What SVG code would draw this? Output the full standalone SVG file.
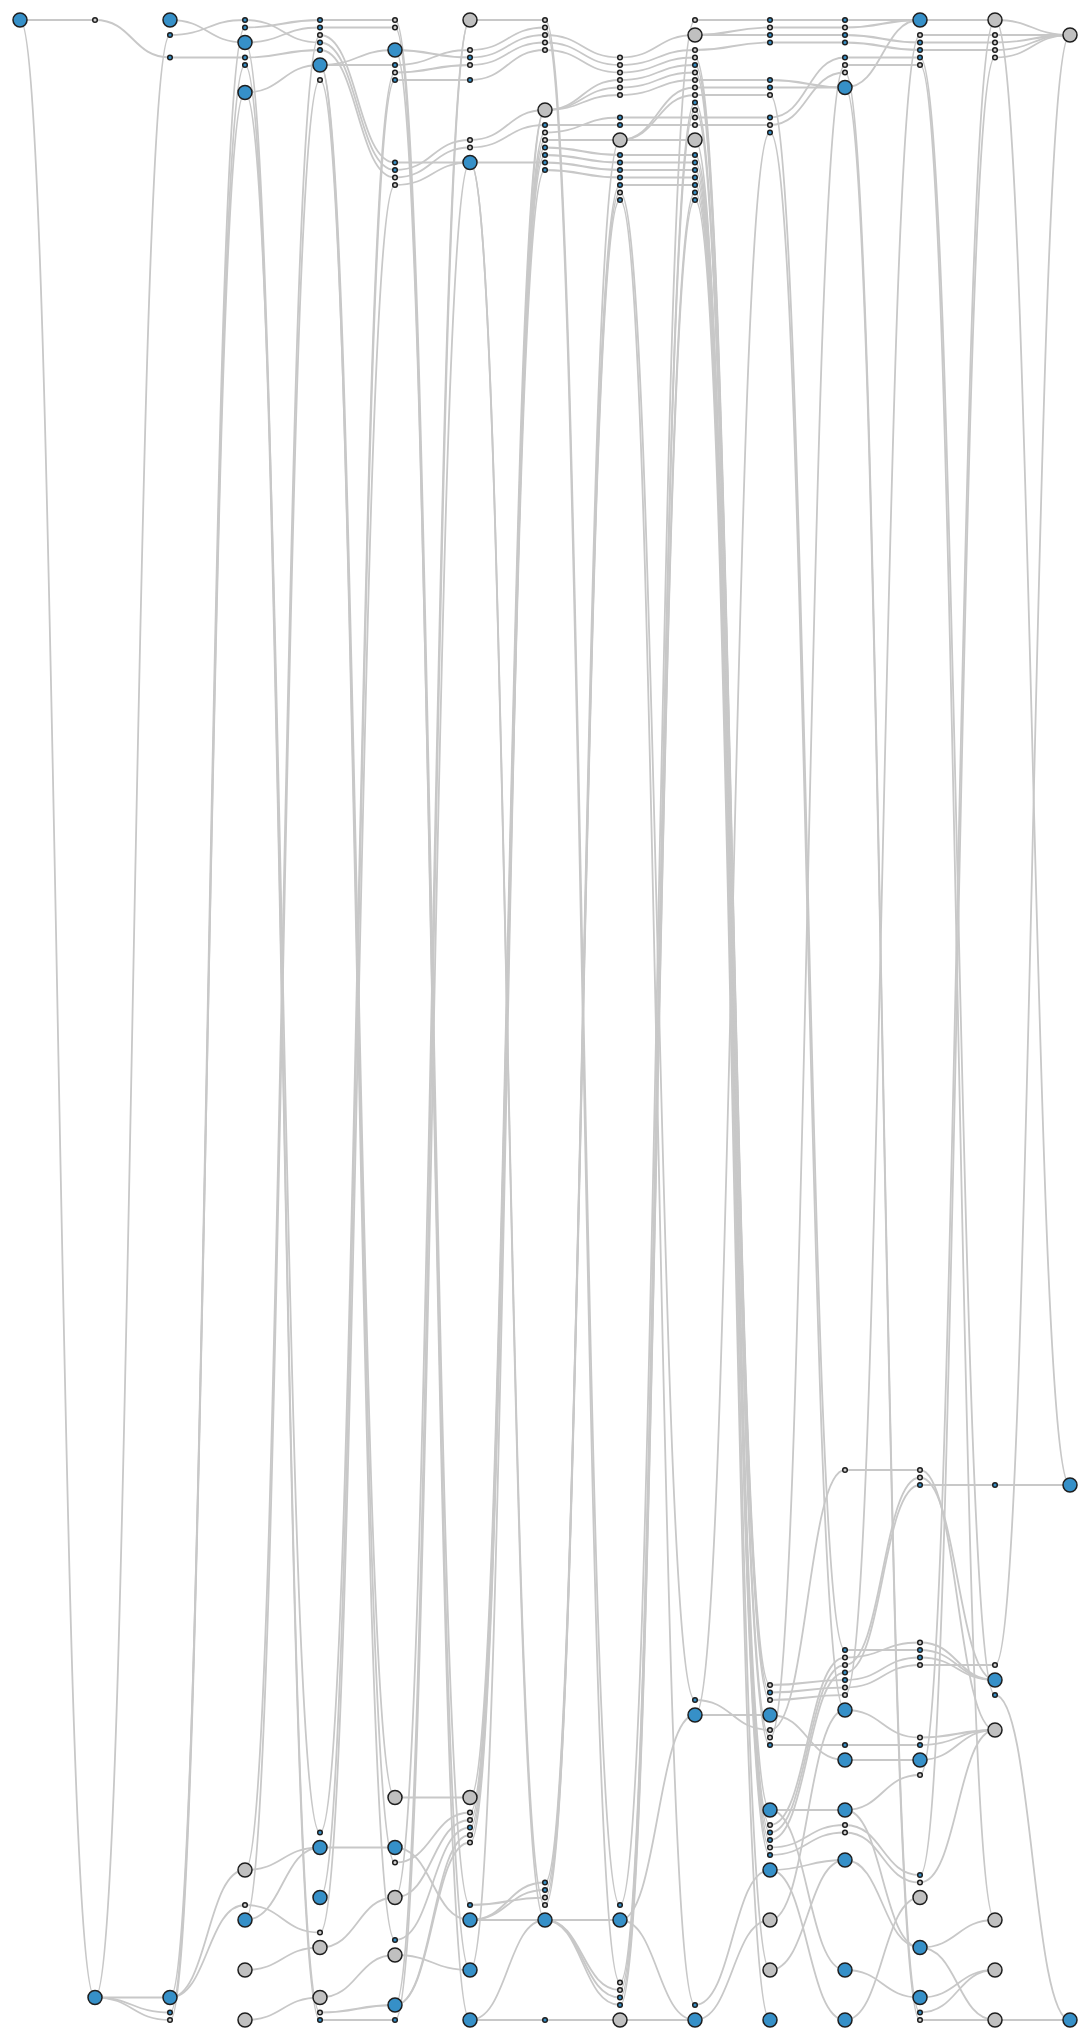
<svg xmlns="http://www.w3.org/2000/svg" width="1090" height="2040" viewBox="0 0 1090 2040">
<style>
.e{fill:none;stroke:#c8c8c8;stroke-width:1.8}
circle{stroke:#1e1e1e;stroke-width:1.5}
.B{fill:#3690c8}
.G{fill:#c0c0c0}
.b{fill:#3690c8}
.w{fill:#d0d0d0}
</style>
<rect width="1090" height="2040" fill="#ffffff"/>
<g id="connectors">
<path class="e" d="M20 20C57.5 20 57.5 20 95 20"/>
<path class="e" d="M20 20C57.5 20 57.5 1997.5 95 1997.5"/>
<path class="e" d="M95 20C132.5 20 132.5 57.5 170 57.5"/>
<path class="e" d="M95 1997.5C132.5 1997.5 132.5 35 170 35"/>
<path class="e" d="M95 1997.5C132.5 1997.5 132.5 1997.5 170 1997.5"/>
<path class="e" d="M95 1997.5C132.5 1997.5 132.5 2012.5 170 2012.5"/>
<path class="e" d="M95 1997.5C132.5 1997.5 132.5 2020 170 2020"/>
<path class="e" d="M170 20C207.5 20 207.5 42.5 245 42.5"/>
<path class="e" d="M170 35C207.5 35 207.5 20 245 20"/>
<path class="e" d="M170 57.5C207.5 57.5 207.5 57.5 245 57.5"/>
<path class="e" d="M170 2012.5C207.5 2012.5 207.5 27.5 245 27.5"/>
<path class="e" d="M170 2020C207.5 2020 207.5 65 245 65"/>
<path class="e" d="M170 1997.5C207.5 1997.5 207.5 92.5 245 92.5"/>
<path class="e" d="M170 1997.5C207.5 1997.5 207.5 1870 245 1870"/>
<path class="e" d="M170 1997.5C207.5 1997.5 207.5 1905 245 1905"/>
<path class="e" d="M245 27.5C282.5 27.5 282.5 20 320 20"/>
<path class="e" d="M245 42.5C282.5 42.5 282.5 27.5 320 27.5"/>
<path class="e" d="M245 20C282.5 20 282.5 42.5 320 42.5"/>
<path class="e" d="M245 57.5C282.5 57.5 282.5 50 320 50"/>
<path class="e" d="M245 92.5C282.5 92.5 282.5 65 320 65"/>
<path class="e" d="M245 1870C282.5 1870 282.5 35 320 35"/>
<path class="e" d="M245 1920C282.5 1920 282.5 80 320 80"/>
<path class="e" d="M245 65C282.5 65 282.5 2020 320 2020"/>
<path class="e" d="M245 92.5C282.5 92.5 282.5 1832.5 320 1832.5"/>
<path class="e" d="M245 42.5C282.5 42.5 282.5 2012.5 320 2012.5"/>
<path class="e" d="M245 1870C282.5 1870 282.5 1847.5 320 1847.5"/>
<path class="e" d="M245 1920C282.5 1920 282.5 1847.5 320 1847.5"/>
<path class="e" d="M245 1905C282.5 1905 282.5 1932.5 320 1932.5"/>
<path class="e" d="M245 1970C282.5 1970 282.5 1947.5 320 1947.5"/>
<path class="e" d="M245 2020C282.5 2020 282.5 1997.5 320 1997.5"/>
<path class="e" d="M320 20C357.5 20 357.5 20 395 20"/>
<path class="e" d="M320 27.5C357.5 27.5 357.5 27.5 395 27.5"/>
<path class="e" d="M320 35C357.5 35 357.5 162.5 395 162.5"/>
<path class="e" d="M320 42.5C357.5 42.5 357.5 170 395 170"/>
<path class="e" d="M320 50C357.5 50 357.5 177.5 395 177.5"/>
<path class="e" d="M320 65C357.5 65 357.5 65 395 65"/>
<path class="e" d="M320 65C357.5 65 357.5 50 395 50"/>
<path class="e" d="M320 80C357.5 80 357.5 1862.5 395 1862.5"/>
<path class="e" d="M320 65C357.5 65 357.5 1797.5 395 1797.5"/>
<path class="e" d="M320 65C357.5 65 357.5 1940 395 1940"/>
<path class="e" d="M320 1832.5C357.5 1832.5 357.5 72.5 395 72.5"/>
<path class="e" d="M320 1897.5C357.5 1897.5 357.5 80 395 80"/>
<path class="e" d="M320 1932.5C357.5 1932.5 357.5 185 395 185"/>
<path class="e" d="M320 1847.5C357.5 1847.5 357.5 1847.5 395 1847.5"/>
<path class="e" d="M320 1947.5C357.5 1947.5 357.5 1897.5 395 1897.5"/>
<path class="e" d="M320 1997.5C357.5 1997.5 357.5 1955 395 1955"/>
<path class="e" d="M320 2012.5C357.5 2012.5 357.5 2005 395 2005"/>
<path class="e" d="M320 2020C357.5 2020 357.5 2020 395 2020"/>
<path class="e" d="M395 20C432.5 20 432.5 1905 470 1905"/>
<path class="e" d="M395 27.5C432.5 27.5 432.5 2020 470 2020"/>
<path class="e" d="M395 65C432.5 65 432.5 50 470 50"/>
<path class="e" d="M395 50C432.5 50 432.5 57.5 470 57.5"/>
<path class="e" d="M395 72.5C432.5 72.5 432.5 65 470 65"/>
<path class="e" d="M395 80C432.5 80 432.5 80 470 80"/>
<path class="e" d="M395 170C432.5 170 432.5 140 470 140"/>
<path class="e" d="M395 177.5C432.5 177.5 432.5 147.5 470 147.5"/>
<path class="e" d="M395 162.5C432.5 162.5 432.5 162.5 470 162.5"/>
<path class="e" d="M395 185C432.5 185 432.5 162.5 470 162.5"/>
<path class="e" d="M395 50C432.5 50 432.5 1970 470 1970"/>
<path class="e" d="M395 2020C432.5 2020 432.5 162.5 470 162.5"/>
<path class="e" d="M395 1897.5C432.5 1897.5 432.5 20 470 20"/>
<path class="e" d="M395 2005C432.5 2005 432.5 20 470 20"/>
<path class="e" d="M395 1797.5C432.5 1797.5 432.5 1797.5 470 1797.5"/>
<path class="e" d="M395 1847.5C432.5 1847.5 432.5 1920 470 1920"/>
<path class="e" d="M395 1862.5C432.5 1862.5 432.5 1812.5 470 1812.5"/>
<path class="e" d="M395 1897.5C432.5 1897.5 432.5 1820 470 1820"/>
<path class="e" d="M395 1940C432.5 1940 432.5 1827.5 470 1827.5"/>
<path class="e" d="M395 1955C432.5 1955 432.5 1970 470 1970"/>
<path class="e" d="M395 2005C432.5 2005 432.5 1835 470 1835"/>
<path class="e" d="M395 2005C432.5 2005 432.5 1842.5 470 1842.5"/>
<path class="e" d="M470 20C507.5 20 507.5 20 545 20"/>
<path class="e" d="M470 50C507.5 50 507.5 27.5 545 27.5"/>
<path class="e" d="M470 57.5C507.5 57.5 507.5 35 545 35"/>
<path class="e" d="M470 65C507.5 65 507.5 42.5 545 42.5"/>
<path class="e" d="M470 80C507.5 80 507.5 50 545 50"/>
<path class="e" d="M470 140C507.5 140 507.5 110 545 110"/>
<path class="e" d="M470 147.5C507.5 147.5 507.5 125 545 125"/>
<path class="e" d="M470 162.5C507.5 162.5 507.5 162.5 545 162.5"/>
<path class="e" d="M470 1797.5C507.5 1797.5 507.5 110 545 110"/>
<path class="e" d="M470 1812.5C507.5 1812.5 507.5 132.5 545 132.5"/>
<path class="e" d="M470 1820C507.5 1820 507.5 140 545 140"/>
<path class="e" d="M470 1827.5C507.5 1827.5 507.5 147.5 545 147.5"/>
<path class="e" d="M470 1835C507.5 1835 507.5 155 545 155"/>
<path class="e" d="M470 1842.5C507.5 1842.5 507.5 170 545 170"/>
<path class="e" d="M470 1970C507.5 1970 507.5 110 545 110"/>
<path class="e" d="M470 162.5C507.5 162.5 507.5 1905 545 1905"/>
<path class="e" d="M470 162.5C507.5 162.5 507.5 1920 545 1920"/>
<path class="e" d="M470 1920C507.5 1920 507.5 1920 545 1920"/>
<path class="e" d="M470 1920C507.5 1920 507.5 1882.5 545 1882.5"/>
<path class="e" d="M470 1920C507.5 1920 507.5 1890 545 1890"/>
<path class="e" d="M470 1905C507.5 1905 507.5 1897.5 545 1897.5"/>
<path class="e" d="M470 2020C507.5 2020 507.5 2020 545 2020"/>
<path class="e" d="M470 2020C507.5 2020 507.5 1920 545 1920"/>
<path class="e" d="M545 20C582.5 20 582.5 1905 620 1905"/>
<path class="e" d="M545 27.5C582.5 27.5 582.5 1982.5 620 1982.5"/>
<path class="e" d="M545 35C582.5 35 582.5 57.5 620 57.5"/>
<path class="e" d="M545 42.5C582.5 42.5 582.5 65 620 65"/>
<path class="e" d="M545 50C582.5 50 582.5 72.5 620 72.5"/>
<path class="e" d="M545 110C582.5 110 582.5 80 620 80"/>
<path class="e" d="M545 110C582.5 110 582.5 87.5 620 87.5"/>
<path class="e" d="M545 110C582.5 110 582.5 95 620 95"/>
<path class="e" d="M545 125C582.5 125 582.5 125 620 125"/>
<path class="e" d="M545 132.5C582.5 132.5 582.5 117.5 620 117.5"/>
<path class="e" d="M545 140C582.5 140 582.5 140 620 140"/>
<path class="e" d="M545 147.5C582.5 147.5 582.5 155 620 155"/>
<path class="e" d="M545 155C582.5 155 582.5 162.5 620 162.5"/>
<path class="e" d="M545 162.5C582.5 162.5 582.5 170 620 170"/>
<path class="e" d="M545 170C582.5 170 582.5 177.5 620 177.5"/>
<path class="e" d="M545 1882.5C582.5 1882.5 582.5 185 620 185"/>
<path class="e" d="M545 1890C582.5 1890 582.5 192.5 620 192.5"/>
<path class="e" d="M545 1897.5C582.5 1897.5 582.5 200 620 200"/>
<path class="e" d="M545 1905C582.5 1905 582.5 140 620 140"/>
<path class="e" d="M545 1920C582.5 1920 582.5 1920 620 1920"/>
<path class="e" d="M545 1920C582.5 1920 582.5 1990 620 1990"/>
<path class="e" d="M545 1920C582.5 1920 582.5 1997.5 620 1997.5"/>
<path class="e" d="M545 1920C582.5 1920 582.5 2005 620 2005"/>
<path class="e" d="M545 2020C582.5 2020 582.5 2020 620 2020"/>
<path class="e" d="M620 57.5C657.5 57.5 657.5 35 695 35"/>
<path class="e" d="M620 65C657.5 65 657.5 50 695 50"/>
<path class="e" d="M620 72.5C657.5 72.5 657.5 57.5 695 57.5"/>
<path class="e" d="M620 80C657.5 80 657.5 65 695 65"/>
<path class="e" d="M620 87.5C657.5 87.5 657.5 72.5 695 72.5"/>
<path class="e" d="M620 95C657.5 95 657.5 80 695 80"/>
<path class="e" d="M620 117.5C657.5 117.5 657.5 117.5 695 117.5"/>
<path class="e" d="M620 125C657.5 125 657.5 125 695 125"/>
<path class="e" d="M620 140C657.5 140 657.5 140 695 140"/>
<path class="e" d="M620 140C657.5 140 657.5 87.5 695 87.5"/>
<path class="e" d="M620 140C657.5 140 657.5 95 695 95"/>
<path class="e" d="M620 155C657.5 155 657.5 155 695 155"/>
<path class="e" d="M620 162.5C657.5 162.5 657.5 162.5 695 162.5"/>
<path class="e" d="M620 170C657.5 170 657.5 170 695 170"/>
<path class="e" d="M620 177.5C657.5 177.5 657.5 177.5 695 177.5"/>
<path class="e" d="M620 185C657.5 185 657.5 185 695 185"/>
<path class="e" d="M620 1905C657.5 1905 657.5 20 695 20"/>
<path class="e" d="M620 1982.5C657.5 1982.5 657.5 102.5 695 102.5"/>
<path class="e" d="M620 1990C657.5 1990 657.5 110 695 110"/>
<path class="e" d="M620 1997.5C657.5 1997.5 657.5 192.5 695 192.5"/>
<path class="e" d="M620 2005C657.5 2005 657.5 200 695 200"/>
<path class="e" d="M620 192.5C657.5 192.5 657.5 1700 695 1700"/>
<path class="e" d="M620 200C657.5 200 657.5 2005 695 2005"/>
<path class="e" d="M620 1920C657.5 1920 657.5 1715 695 1715"/>
<path class="e" d="M620 1920C657.5 1920 657.5 2020 695 2020"/>
<path class="e" d="M620 2020C657.5 2020 657.5 2020 695 2020"/>
<path class="e" d="M695 20C732.5 20 732.5 20 770 20"/>
<path class="e" d="M695 35C732.5 35 732.5 27.5 770 27.5"/>
<path class="e" d="M695 35C732.5 35 732.5 35 770 35"/>
<path class="e" d="M695 50C732.5 50 732.5 42.5 770 42.5"/>
<path class="e" d="M695 80C732.5 80 732.5 80 770 80"/>
<path class="e" d="M695 87.5C732.5 87.5 732.5 87.5 770 87.5"/>
<path class="e" d="M695 95C732.5 95 732.5 95 770 95"/>
<path class="e" d="M695 117.5C732.5 117.5 732.5 117.5 770 117.5"/>
<path class="e" d="M695 125C732.5 125 732.5 125 770 125"/>
<path class="e" d="M695 1715C732.5 1715 732.5 132.5 770 132.5"/>
<path class="e" d="M695 57.5C732.5 57.5 732.5 1685 770 1685"/>
<path class="e" d="M695 65C732.5 65 732.5 1692.5 770 1692.5"/>
<path class="e" d="M695 72.5C732.5 72.5 732.5 1700 770 1700"/>
<path class="e" d="M695 102.5C732.5 102.5 732.5 1737.5 770 1737.5"/>
<path class="e" d="M695 110C732.5 110 732.5 1745 770 1745"/>
<path class="e" d="M695 155C732.5 155 732.5 1810 770 1810"/>
<path class="e" d="M695 162.5C732.5 162.5 732.5 1825 770 1825"/>
<path class="e" d="M695 170C732.5 170 732.5 1832.5 770 1832.5"/>
<path class="e" d="M695 177.5C732.5 177.5 732.5 1840 770 1840"/>
<path class="e" d="M695 185C732.5 185 732.5 1847.5 770 1847.5"/>
<path class="e" d="M695 192.5C732.5 192.5 732.5 1855 770 1855"/>
<path class="e" d="M695 200C732.5 200 732.5 2020 770 2020"/>
<path class="e" d="M695 140C732.5 140 732.5 1970 770 1970"/>
<path class="e" d="M695 1700C732.5 1700 732.5 1730 770 1730"/>
<path class="e" d="M695 1715C732.5 1715 732.5 1715 770 1715"/>
<path class="e" d="M695 2005C732.5 2005 732.5 1870 770 1870"/>
<path class="e" d="M695 2020C732.5 2020 732.5 1920 770 1920"/>
<path class="e" d="M770 20C807.5 20 807.5 20 845 20"/>
<path class="e" d="M770 27.5C807.5 27.5 807.5 27.5 845 27.5"/>
<path class="e" d="M770 35C807.5 35 807.5 35 845 35"/>
<path class="e" d="M770 42.5C807.5 42.5 807.5 42.5 845 42.5"/>
<path class="e" d="M770 80C807.5 80 807.5 87.5 845 87.5"/>
<path class="e" d="M770 87.5C807.5 87.5 807.5 87.5 845 87.5"/>
<path class="e" d="M770 117.5C807.5 117.5 807.5 57.5 845 57.5"/>
<path class="e" d="M770 125C807.5 125 807.5 72.5 845 72.5"/>
<path class="e" d="M770 95C807.5 95 807.5 1650 845 1650"/>
<path class="e" d="M770 132.5C807.5 132.5 807.5 1710 845 1710"/>
<path class="e" d="M770 1730C807.5 1730 807.5 1470 845 1470"/>
<path class="e" d="M770 1737.5C807.5 1737.5 807.5 65 845 65"/>
<path class="e" d="M770 1685C807.5 1685 807.5 1680 845 1680"/>
<path class="e" d="M770 1692.5C807.5 1692.5 807.5 1687.5 845 1687.5"/>
<path class="e" d="M770 1700C807.5 1700 807.5 1695 845 1695"/>
<path class="e" d="M770 1745C807.5 1745 807.5 1745 845 1745"/>
<path class="e" d="M770 1825C807.5 1825 807.5 1657.5 845 1657.5"/>
<path class="e" d="M770 1832.5C807.5 1832.5 807.5 1665 845 1665"/>
<path class="e" d="M770 1840C807.5 1840 807.5 1672.5 845 1672.5"/>
<path class="e" d="M770 1847.5C807.5 1847.5 807.5 1825 845 1825"/>
<path class="e" d="M770 1855C807.5 1855 807.5 1832.5 845 1832.5"/>
<path class="e" d="M770 1715C807.5 1715 807.5 1760 845 1760"/>
<path class="e" d="M770 1810C807.5 1810 807.5 1810 845 1810"/>
<path class="e" d="M770 1810C807.5 1810 807.5 1970 845 1970"/>
<path class="e" d="M770 1870C807.5 1870 807.5 1860 845 1860"/>
<path class="e" d="M770 1970C807.5 1970 807.5 1860 845 1860"/>
<path class="e" d="M770 1870C807.5 1870 807.5 2020 845 2020"/>
<path class="e" d="M770 1920C807.5 1920 807.5 1710 845 1710"/>
<path class="e" d="M845 20C882.5 20 882.5 20 920 20"/>
<path class="e" d="M845 27.5C882.5 27.5 882.5 20 920 20"/>
<path class="e" d="M845 35C882.5 35 882.5 42.5 920 42.5"/>
<path class="e" d="M845 42.5C882.5 42.5 882.5 50 920 50"/>
<path class="e" d="M845 57.5C882.5 57.5 882.5 57.5 920 57.5"/>
<path class="e" d="M845 65C882.5 65 882.5 65 920 65"/>
<path class="e" d="M845 87.5C882.5 87.5 882.5 20 920 20"/>
<path class="e" d="M845 72.5C882.5 72.5 882.5 2012.5 920 2012.5"/>
<path class="e" d="M845 87.5C882.5 87.5 882.5 2020 920 2020"/>
<path class="e" d="M845 1695C882.5 1695 882.5 35 920 35"/>
<path class="e" d="M845 1470C882.5 1470 882.5 1470 920 1470"/>
<path class="e" d="M845 1665C882.5 1665 882.5 1477.5 920 1477.5"/>
<path class="e" d="M845 1672.5C882.5 1672.5 882.5 1485 920 1485"/>
<path class="e" d="M845 1650C882.5 1650 882.5 1650 920 1650"/>
<path class="e" d="M845 1657.5C882.5 1657.5 882.5 1642.5 920 1642.5"/>
<path class="e" d="M845 1680C882.5 1680 882.5 1657.5 920 1657.5"/>
<path class="e" d="M845 1687.5C882.5 1687.5 882.5 1665 920 1665"/>
<path class="e" d="M845 1710C882.5 1710 882.5 1737.5 920 1737.5"/>
<path class="e" d="M845 1745C882.5 1745 882.5 1745 920 1745"/>
<path class="e" d="M845 1760C882.5 1760 882.5 1760 920 1760"/>
<path class="e" d="M845 1810C882.5 1810 882.5 1775 920 1775"/>
<path class="e" d="M845 1810C882.5 1810 882.5 1947.5 920 1947.5"/>
<path class="e" d="M845 1825C882.5 1825 882.5 1875 920 1875"/>
<path class="e" d="M845 1832.5C882.5 1832.5 882.5 1882.5 920 1882.5"/>
<path class="e" d="M845 1860C882.5 1860 882.5 1947.5 920 1947.5"/>
<path class="e" d="M845 1970C882.5 1970 882.5 1997.5 920 1997.5"/>
<path class="e" d="M845 2020C882.5 2020 882.5 1897.5 920 1897.5"/>
<path class="e" d="M920 20C957.5 20 957.5 20 995 20"/>
<path class="e" d="M920 35C957.5 35 957.5 35 995 35"/>
<path class="e" d="M920 42.5C957.5 42.5 957.5 42.5 995 42.5"/>
<path class="e" d="M920 50C957.5 50 957.5 50 995 50"/>
<path class="e" d="M920 57.5C957.5 57.5 957.5 1695 995 1695"/>
<path class="e" d="M920 65C957.5 65 957.5 1920 995 1920"/>
<path class="e" d="M920 1775C957.5 1775 957.5 20 995 20"/>
<path class="e" d="M920 1875C957.5 1875 957.5 57.5 995 57.5"/>
<path class="e" d="M920 1485C957.5 1485 957.5 1485 995 1485"/>
<path class="e" d="M920 1470C957.5 1470 957.5 1730 995 1730"/>
<path class="e" d="M920 1477.5C957.5 1477.5 957.5 1680 995 1680"/>
<path class="e" d="M920 1642.5C957.5 1642.5 957.5 1680 995 1680"/>
<path class="e" d="M920 1650C957.5 1650 957.5 1680 995 1680"/>
<path class="e" d="M920 1657.5C957.5 1657.5 957.5 1680 995 1680"/>
<path class="e" d="M920 1665C957.5 1665 957.5 1665 995 1665"/>
<path class="e" d="M920 1737.5C957.5 1737.5 957.5 1730 995 1730"/>
<path class="e" d="M920 1745C957.5 1745 957.5 1730 995 1730"/>
<path class="e" d="M920 1760C957.5 1760 957.5 1730 995 1730"/>
<path class="e" d="M920 1882.5C957.5 1882.5 957.5 1730 995 1730"/>
<path class="e" d="M920 1947.5C957.5 1947.5 957.5 1920 995 1920"/>
<path class="e" d="M920 1947.5C957.5 1947.5 957.5 2020 995 2020"/>
<path class="e" d="M920 1997.5C957.5 1997.5 957.5 1970 995 1970"/>
<path class="e" d="M920 2012.5C957.5 2012.5 957.5 1970 995 1970"/>
<path class="e" d="M920 2020C957.5 2020 957.5 2020 995 2020"/>
<path class="e" d="M995 20C1032.5 20 1032.5 35 1070 35"/>
<path class="e" d="M995 35C1032.5 35 1032.5 35 1070 35"/>
<path class="e" d="M995 42.5C1032.5 42.5 1032.5 35 1070 35"/>
<path class="e" d="M995 50C1032.5 50 1032.5 35 1070 35"/>
<path class="e" d="M995 57.5C1032.5 57.5 1032.5 35 1070 35"/>
<path class="e" d="M995 1485C1032.5 1485 1032.5 1485 1070 1485"/>
<path class="e" d="M995 2020C1032.5 2020 1032.5 2020 1070 2020"/>
<path class="e" d="M995 1665C1032.5 1665 1032.5 35 1070 35"/>
<path class="e" d="M995 20C1032.5 20 1032.5 1485 1070 1485"/>
<path class="e" d="M995 1695C1032.5 1695 1032.5 2020 1070 2020"/>
</g>
<g id="nodes">
<g id="n1-20"><circle class="B" cx="20" cy="20" r="7"/></g>
<g id="n2-20"><circle class="w" cx="95" cy="20" r="2.3"/></g>
<g id="n2-1997"><circle class="B" cx="95" cy="1997.5" r="7"/></g>
<g id="n3-20"><circle class="B" cx="170" cy="20" r="7"/></g>
<g id="n3-35"><circle class="b" cx="170" cy="35" r="2.3"/></g>
<g id="n3-57"><circle class="b" cx="170" cy="57.5" r="2.3"/></g>
<g id="n3-1997"><circle class="B" cx="170" cy="1997.5" r="7"/></g>
<g id="n3-2012"><circle class="b" cx="170" cy="2012.5" r="2.3"/></g>
<g id="n3-2020"><circle class="w" cx="170" cy="2020" r="2.3"/></g>
<g id="n4-20"><circle class="b" cx="245" cy="20" r="2.3"/></g>
<g id="n4-27"><circle class="b" cx="245" cy="27.5" r="2.3"/></g>
<g id="n4-42"><circle class="B" cx="245" cy="42.5" r="7"/></g>
<g id="n4-57"><circle class="b" cx="245" cy="57.5" r="2.3"/></g>
<g id="n4-65"><circle class="b" cx="245" cy="65" r="2.3"/></g>
<g id="n4-92"><circle class="B" cx="245" cy="92.5" r="7"/></g>
<g id="n4-1870"><circle class="G" cx="245" cy="1870" r="7"/></g>
<g id="n4-1905"><circle class="w" cx="245" cy="1905" r="2.3"/></g>
<g id="n4-1920"><circle class="B" cx="245" cy="1920" r="7"/></g>
<g id="n4-1970"><circle class="G" cx="245" cy="1970" r="7"/></g>
<g id="n4-2020"><circle class="G" cx="245" cy="2020" r="7"/></g>
<g id="n5-20"><circle class="b" cx="320" cy="20" r="2.3"/></g>
<g id="n5-27"><circle class="b" cx="320" cy="27.5" r="2.3"/></g>
<g id="n5-35"><circle class="w" cx="320" cy="35" r="2.3"/></g>
<g id="n5-42"><circle class="b" cx="320" cy="42.5" r="2.3"/></g>
<g id="n5-50"><circle class="b" cx="320" cy="50" r="2.3"/></g>
<g id="n5-65"><circle class="B" cx="320" cy="65" r="7"/></g>
<g id="n5-80"><circle class="w" cx="320" cy="80" r="2.3"/></g>
<g id="n5-1832"><circle class="b" cx="320" cy="1832.5" r="2.3"/></g>
<g id="n5-1847"><circle class="B" cx="320" cy="1847.5" r="7"/></g>
<g id="n5-1897"><circle class="B" cx="320" cy="1897.5" r="7"/></g>
<g id="n5-1932"><circle class="w" cx="320" cy="1932.5" r="2.3"/></g>
<g id="n5-1947"><circle class="G" cx="320" cy="1947.5" r="7"/></g>
<g id="n5-1997"><circle class="G" cx="320" cy="1997.5" r="7"/></g>
<g id="n5-2012"><circle class="w" cx="320" cy="2012.5" r="2.3"/></g>
<g id="n5-2020"><circle class="b" cx="320" cy="2020" r="2.3"/></g>
<g id="n6-20"><circle class="w" cx="395" cy="20" r="2.3"/></g>
<g id="n6-27"><circle class="w" cx="395" cy="27.5" r="2.3"/></g>
<g id="n6-50"><circle class="B" cx="395" cy="50" r="7"/></g>
<g id="n6-65"><circle class="b" cx="395" cy="65" r="2.3"/></g>
<g id="n6-72"><circle class="w" cx="395" cy="72.5" r="2.3"/></g>
<g id="n6-80"><circle class="b" cx="395" cy="80" r="2.3"/></g>
<g id="n6-162"><circle class="b" cx="395" cy="162.5" r="2.3"/></g>
<g id="n6-170"><circle class="b" cx="395" cy="170" r="2.3"/></g>
<g id="n6-177"><circle class="w" cx="395" cy="177.5" r="2.3"/></g>
<g id="n6-185"><circle class="w" cx="395" cy="185" r="2.3"/></g>
<g id="n6-1797"><circle class="G" cx="395" cy="1797.5" r="7"/></g>
<g id="n6-1847"><circle class="B" cx="395" cy="1847.5" r="7"/></g>
<g id="n6-1862"><circle class="w" cx="395" cy="1862.5" r="2.3"/></g>
<g id="n6-1897"><circle class="G" cx="395" cy="1897.5" r="7"/></g>
<g id="n6-1940"><circle class="b" cx="395" cy="1940" r="2.3"/></g>
<g id="n6-1955"><circle class="G" cx="395" cy="1955" r="7"/></g>
<g id="n6-2005"><circle class="B" cx="395" cy="2005" r="7"/></g>
<g id="n6-2020"><circle class="b" cx="395" cy="2020" r="2.3"/></g>
<g id="n7-20"><circle class="G" cx="470" cy="20" r="7"/></g>
<g id="n7-50"><circle class="w" cx="470" cy="50" r="2.3"/></g>
<g id="n7-57"><circle class="b" cx="470" cy="57.5" r="2.3"/></g>
<g id="n7-65"><circle class="w" cx="470" cy="65" r="2.3"/></g>
<g id="n7-80"><circle class="b" cx="470" cy="80" r="2.3"/></g>
<g id="n7-140"><circle class="w" cx="470" cy="140" r="2.3"/></g>
<g id="n7-147"><circle class="w" cx="470" cy="147.5" r="2.3"/></g>
<g id="n7-162"><circle class="B" cx="470" cy="162.5" r="7"/></g>
<g id="n7-1797"><circle class="G" cx="470" cy="1797.5" r="7"/></g>
<g id="n7-1812"><circle class="w" cx="470" cy="1812.5" r="2.3"/></g>
<g id="n7-1820"><circle class="w" cx="470" cy="1820" r="2.3"/></g>
<g id="n7-1827"><circle class="b" cx="470" cy="1827.5" r="2.3"/></g>
<g id="n7-1835"><circle class="w" cx="470" cy="1835" r="2.3"/></g>
<g id="n7-1842"><circle class="w" cx="470" cy="1842.5" r="2.3"/></g>
<g id="n7-1905"><circle class="b" cx="470" cy="1905" r="2.3"/></g>
<g id="n7-1920"><circle class="B" cx="470" cy="1920" r="7"/></g>
<g id="n7-1970"><circle class="B" cx="470" cy="1970" r="7"/></g>
<g id="n7-2020"><circle class="B" cx="470" cy="2020" r="7"/></g>
<g id="n8-20"><circle class="w" cx="545" cy="20" r="2.3"/></g>
<g id="n8-27"><circle class="w" cx="545" cy="27.5" r="2.3"/></g>
<g id="n8-35"><circle class="w" cx="545" cy="35" r="2.3"/></g>
<g id="n8-42"><circle class="w" cx="545" cy="42.5" r="2.3"/></g>
<g id="n8-50"><circle class="w" cx="545" cy="50" r="2.3"/></g>
<g id="n8-110"><circle class="G" cx="545" cy="110" r="7"/></g>
<g id="n8-125"><circle class="b" cx="545" cy="125" r="2.3"/></g>
<g id="n8-132"><circle class="w" cx="545" cy="132.5" r="2.3"/></g>
<g id="n8-140"><circle class="w" cx="545" cy="140" r="2.3"/></g>
<g id="n8-147"><circle class="b" cx="545" cy="147.5" r="2.3"/></g>
<g id="n8-155"><circle class="b" cx="545" cy="155" r="2.3"/></g>
<g id="n8-162"><circle class="b" cx="545" cy="162.5" r="2.3"/></g>
<g id="n8-170"><circle class="b" cx="545" cy="170" r="2.3"/></g>
<g id="n8-1882"><circle class="b" cx="545" cy="1882.5" r="2.3"/></g>
<g id="n8-1890"><circle class="b" cx="545" cy="1890" r="2.3"/></g>
<g id="n8-1897"><circle class="w" cx="545" cy="1897.5" r="2.3"/></g>
<g id="n8-1905"><circle class="w" cx="545" cy="1905" r="2.3"/></g>
<g id="n8-1920"><circle class="B" cx="545" cy="1920" r="7"/></g>
<g id="n8-2020"><circle class="b" cx="545" cy="2020" r="2.3"/></g>
<g id="n9-57"><circle class="w" cx="620" cy="57.5" r="2.3"/></g>
<g id="n9-65"><circle class="w" cx="620" cy="65" r="2.3"/></g>
<g id="n9-72"><circle class="w" cx="620" cy="72.5" r="2.3"/></g>
<g id="n9-80"><circle class="w" cx="620" cy="80" r="2.3"/></g>
<g id="n9-87"><circle class="w" cx="620" cy="87.5" r="2.3"/></g>
<g id="n9-95"><circle class="w" cx="620" cy="95" r="2.3"/></g>
<g id="n9-117"><circle class="b" cx="620" cy="117.5" r="2.3"/></g>
<g id="n9-125"><circle class="b" cx="620" cy="125" r="2.3"/></g>
<g id="n9-140"><circle class="G" cx="620" cy="140" r="7"/></g>
<g id="n9-155"><circle class="b" cx="620" cy="155" r="2.3"/></g>
<g id="n9-162"><circle class="b" cx="620" cy="162.5" r="2.3"/></g>
<g id="n9-170"><circle class="b" cx="620" cy="170" r="2.3"/></g>
<g id="n9-177"><circle class="b" cx="620" cy="177.5" r="2.3"/></g>
<g id="n9-185"><circle class="b" cx="620" cy="185" r="2.3"/></g>
<g id="n9-192"><circle class="w" cx="620" cy="192.5" r="2.3"/></g>
<g id="n9-200"><circle class="b" cx="620" cy="200" r="2.3"/></g>
<g id="n9-1905"><circle class="b" cx="620" cy="1905" r="2.3"/></g>
<g id="n9-1920"><circle class="B" cx="620" cy="1920" r="7"/></g>
<g id="n9-1982"><circle class="w" cx="620" cy="1982.5" r="2.3"/></g>
<g id="n9-1990"><circle class="w" cx="620" cy="1990" r="2.3"/></g>
<g id="n9-1997"><circle class="b" cx="620" cy="1997.5" r="2.3"/></g>
<g id="n9-2005"><circle class="b" cx="620" cy="2005" r="2.3"/></g>
<g id="n9-2020"><circle class="G" cx="620" cy="2020" r="7"/></g>
<g id="n10-20"><circle class="w" cx="695" cy="20" r="2.3"/></g>
<g id="n10-35"><circle class="G" cx="695" cy="35" r="7"/></g>
<g id="n10-50"><circle class="w" cx="695" cy="50" r="2.3"/></g>
<g id="n10-57"><circle class="w" cx="695" cy="57.5" r="2.3"/></g>
<g id="n10-65"><circle class="b" cx="695" cy="65" r="2.3"/></g>
<g id="n10-72"><circle class="w" cx="695" cy="72.5" r="2.3"/></g>
<g id="n10-80"><circle class="w" cx="695" cy="80" r="2.3"/></g>
<g id="n10-87"><circle class="w" cx="695" cy="87.5" r="2.3"/></g>
<g id="n10-95"><circle class="w" cx="695" cy="95" r="2.3"/></g>
<g id="n10-102"><circle class="b" cx="695" cy="102.5" r="2.3"/></g>
<g id="n10-110"><circle class="w" cx="695" cy="110" r="2.3"/></g>
<g id="n10-117"><circle class="w" cx="695" cy="117.5" r="2.3"/></g>
<g id="n10-125"><circle class="w" cx="695" cy="125" r="2.3"/></g>
<g id="n10-140"><circle class="G" cx="695" cy="140" r="7"/></g>
<g id="n10-155"><circle class="b" cx="695" cy="155" r="2.3"/></g>
<g id="n10-162"><circle class="b" cx="695" cy="162.5" r="2.3"/></g>
<g id="n10-170"><circle class="b" cx="695" cy="170" r="2.3"/></g>
<g id="n10-177"><circle class="b" cx="695" cy="177.5" r="2.3"/></g>
<g id="n10-185"><circle class="b" cx="695" cy="185" r="2.3"/></g>
<g id="n10-192"><circle class="b" cx="695" cy="192.5" r="2.3"/></g>
<g id="n10-200"><circle class="b" cx="695" cy="200" r="2.3"/></g>
<g id="n10-1700"><circle class="b" cx="695" cy="1700" r="2.3"/></g>
<g id="n10-1715"><circle class="B" cx="695" cy="1715" r="7"/></g>
<g id="n10-2005"><circle class="b" cx="695" cy="2005" r="2.3"/></g>
<g id="n10-2020"><circle class="B" cx="695" cy="2020" r="7"/></g>
<g id="n11-20"><circle class="b" cx="770" cy="20" r="2.3"/></g>
<g id="n11-27"><circle class="w" cx="770" cy="27.5" r="2.3"/></g>
<g id="n11-35"><circle class="b" cx="770" cy="35" r="2.3"/></g>
<g id="n11-42"><circle class="b" cx="770" cy="42.5" r="2.3"/></g>
<g id="n11-80"><circle class="b" cx="770" cy="80" r="2.3"/></g>
<g id="n11-87"><circle class="b" cx="770" cy="87.5" r="2.3"/></g>
<g id="n11-95"><circle class="w" cx="770" cy="95" r="2.3"/></g>
<g id="n11-117"><circle class="b" cx="770" cy="117.5" r="2.3"/></g>
<g id="n11-125"><circle class="w" cx="770" cy="125" r="2.3"/></g>
<g id="n11-132"><circle class="b" cx="770" cy="132.5" r="2.3"/></g>
<g id="n11-1685"><circle class="w" cx="770" cy="1685" r="2.3"/></g>
<g id="n11-1692"><circle class="b" cx="770" cy="1692.5" r="2.3"/></g>
<g id="n11-1700"><circle class="w" cx="770" cy="1700" r="2.3"/></g>
<g id="n11-1715"><circle class="B" cx="770" cy="1715" r="7"/></g>
<g id="n11-1730"><circle class="w" cx="770" cy="1730" r="2.3"/></g>
<g id="n11-1737"><circle class="w" cx="770" cy="1737.5" r="2.3"/></g>
<g id="n11-1745"><circle class="b" cx="770" cy="1745" r="2.3"/></g>
<g id="n11-1810"><circle class="B" cx="770" cy="1810" r="7"/></g>
<g id="n11-1825"><circle class="w" cx="770" cy="1825" r="2.3"/></g>
<g id="n11-1832"><circle class="b" cx="770" cy="1832.5" r="2.3"/></g>
<g id="n11-1840"><circle class="b" cx="770" cy="1840" r="2.3"/></g>
<g id="n11-1847"><circle class="w" cx="770" cy="1847.5" r="2.3"/></g>
<g id="n11-1855"><circle class="b" cx="770" cy="1855" r="2.3"/></g>
<g id="n11-1870"><circle class="B" cx="770" cy="1870" r="7"/></g>
<g id="n11-1920"><circle class="G" cx="770" cy="1920" r="7"/></g>
<g id="n11-1970"><circle class="G" cx="770" cy="1970" r="7"/></g>
<g id="n11-2020"><circle class="B" cx="770" cy="2020" r="7"/></g>
<g id="n12-20"><circle class="b" cx="845" cy="20" r="2.3"/></g>
<g id="n12-27"><circle class="w" cx="845" cy="27.5" r="2.3"/></g>
<g id="n12-35"><circle class="b" cx="845" cy="35" r="2.3"/></g>
<g id="n12-42"><circle class="b" cx="845" cy="42.5" r="2.3"/></g>
<g id="n12-57"><circle class="b" cx="845" cy="57.5" r="2.3"/></g>
<g id="n12-65"><circle class="w" cx="845" cy="65" r="2.3"/></g>
<g id="n12-72"><circle class="w" cx="845" cy="72.5" r="2.3"/></g>
<g id="n12-87"><circle class="B" cx="845" cy="87.5" r="7"/></g>
<g id="n12-1470"><circle class="w" cx="845" cy="1470" r="2.3"/></g>
<g id="n12-1650"><circle class="b" cx="845" cy="1650" r="2.3"/></g>
<g id="n12-1657"><circle class="w" cx="845" cy="1657.5" r="2.3"/></g>
<g id="n12-1665"><circle class="w" cx="845" cy="1665" r="2.3"/></g>
<g id="n12-1672"><circle class="b" cx="845" cy="1672.5" r="2.3"/></g>
<g id="n12-1680"><circle class="b" cx="845" cy="1680" r="2.3"/></g>
<g id="n12-1687"><circle class="w" cx="845" cy="1687.5" r="2.3"/></g>
<g id="n12-1695"><circle class="w" cx="845" cy="1695" r="2.3"/></g>
<g id="n12-1710"><circle class="B" cx="845" cy="1710" r="7"/></g>
<g id="n12-1745"><circle class="b" cx="845" cy="1745" r="2.3"/></g>
<g id="n12-1760"><circle class="B" cx="845" cy="1760" r="7"/></g>
<g id="n12-1810"><circle class="B" cx="845" cy="1810" r="7"/></g>
<g id="n12-1825"><circle class="w" cx="845" cy="1825" r="2.3"/></g>
<g id="n12-1832"><circle class="w" cx="845" cy="1832.5" r="2.3"/></g>
<g id="n12-1860"><circle class="B" cx="845" cy="1860" r="7"/></g>
<g id="n12-1970"><circle class="B" cx="845" cy="1970" r="7"/></g>
<g id="n12-2020"><circle class="B" cx="845" cy="2020" r="7"/></g>
<g id="n13-20"><circle class="B" cx="920" cy="20" r="7"/></g>
<g id="n13-35"><circle class="w" cx="920" cy="35" r="2.3"/></g>
<g id="n13-42"><circle class="b" cx="920" cy="42.5" r="2.3"/></g>
<g id="n13-50"><circle class="b" cx="920" cy="50" r="2.3"/></g>
<g id="n13-57"><circle class="b" cx="920" cy="57.5" r="2.3"/></g>
<g id="n13-65"><circle class="w" cx="920" cy="65" r="2.3"/></g>
<g id="n13-1470"><circle class="w" cx="920" cy="1470" r="2.3"/></g>
<g id="n13-1477"><circle class="w" cx="920" cy="1477.5" r="2.3"/></g>
<g id="n13-1485"><circle class="b" cx="920" cy="1485" r="2.3"/></g>
<g id="n13-1642"><circle class="w" cx="920" cy="1642.5" r="2.3"/></g>
<g id="n13-1650"><circle class="b" cx="920" cy="1650" r="2.3"/></g>
<g id="n13-1657"><circle class="b" cx="920" cy="1657.5" r="2.3"/></g>
<g id="n13-1665"><circle class="w" cx="920" cy="1665" r="2.3"/></g>
<g id="n13-1737"><circle class="w" cx="920" cy="1737.5" r="2.3"/></g>
<g id="n13-1745"><circle class="b" cx="920" cy="1745" r="2.3"/></g>
<g id="n13-1760"><circle class="B" cx="920" cy="1760" r="7"/></g>
<g id="n13-1775"><circle class="w" cx="920" cy="1775" r="2.3"/></g>
<g id="n13-1875"><circle class="b" cx="920" cy="1875" r="2.3"/></g>
<g id="n13-1882"><circle class="w" cx="920" cy="1882.5" r="2.3"/></g>
<g id="n13-1897"><circle class="G" cx="920" cy="1897.5" r="7"/></g>
<g id="n13-1947"><circle class="B" cx="920" cy="1947.5" r="7"/></g>
<g id="n13-1997"><circle class="B" cx="920" cy="1997.5" r="7"/></g>
<g id="n13-2012"><circle class="b" cx="920" cy="2012.5" r="2.3"/></g>
<g id="n13-2020"><circle class="w" cx="920" cy="2020" r="2.3"/></g>
<g id="n14-20"><circle class="G" cx="995" cy="20" r="7"/></g>
<g id="n14-35"><circle class="w" cx="995" cy="35" r="2.3"/></g>
<g id="n14-42"><circle class="w" cx="995" cy="42.5" r="2.3"/></g>
<g id="n14-50"><circle class="w" cx="995" cy="50" r="2.3"/></g>
<g id="n14-57"><circle class="w" cx="995" cy="57.5" r="2.3"/></g>
<g id="n14-1485"><circle class="b" cx="995" cy="1485" r="2.3"/></g>
<g id="n14-1665"><circle class="w" cx="995" cy="1665" r="2.3"/></g>
<g id="n14-1680"><circle class="B" cx="995" cy="1680" r="7"/></g>
<g id="n14-1695"><circle class="b" cx="995" cy="1695" r="2.3"/></g>
<g id="n14-1730"><circle class="G" cx="995" cy="1730" r="7"/></g>
<g id="n14-1920"><circle class="G" cx="995" cy="1920" r="7"/></g>
<g id="n14-1970"><circle class="G" cx="995" cy="1970" r="7"/></g>
<g id="n14-2020"><circle class="G" cx="995" cy="2020" r="7"/></g>
<g id="n15-35"><circle class="G" cx="1070" cy="35" r="7"/></g>
<g id="n15-1485"><circle class="B" cx="1070" cy="1485" r="7"/></g>
<g id="n15-2020"><circle class="B" cx="1070" cy="2020" r="7"/></g>
</g>
</svg>
